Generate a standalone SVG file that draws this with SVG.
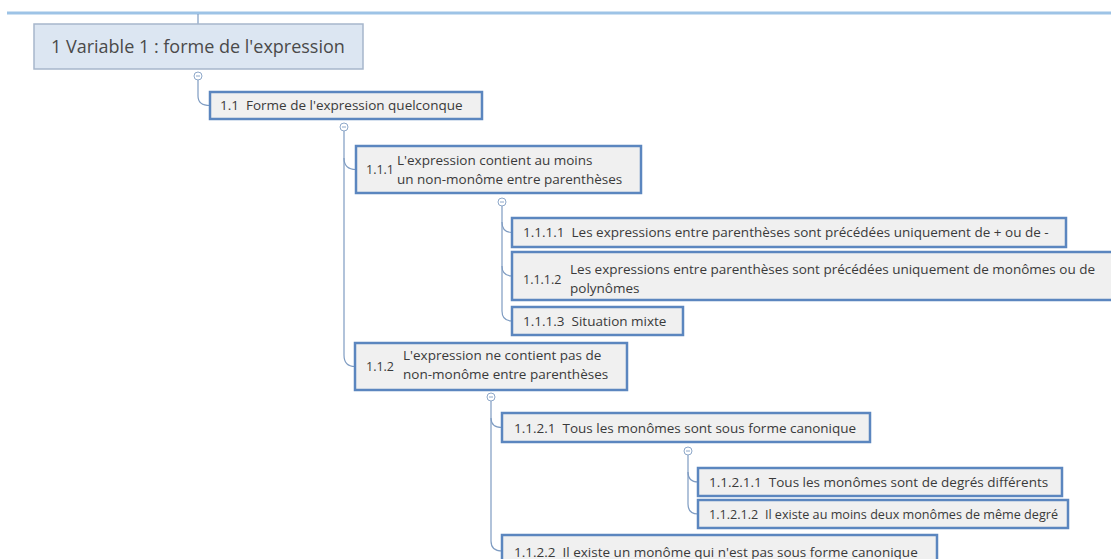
<svg xmlns="http://www.w3.org/2000/svg" width="1111" height="559" viewBox="0 0 1111 559">
<style>
  text { font-family: "Open Sans", "Noto Sans", "DejaVu Sans", sans-serif; fill: #3a3a3a; }
  .root rect { fill: #dce6f2; stroke: #a7b6cb; stroke-width: 1.5; }
  .root text { font-size: 18px; fill: #4a4a4a; }
  .node rect { fill: #f0f0f0; stroke: #5b86bf; stroke-width: 2.5; }
  .node text { font-size: 13.5px; }
  .node text.num { font-size: 12.5px; }
  .conn path { fill: none; stroke: #7f9cc2; stroke-width: 1.2; }
  .conn circle { fill: #ffffff; stroke: #8ea8c9; stroke-width: 1; }
  .conn line.minus { stroke: #8ea8c9; stroke-width: 1; }
</style>
<rect x="7" y="11.5" width="1104" height="3" fill="#9dc3e6"/>
<g class="conn">
  <path d="M198 14 V24"/>
  <path d="M198 80 V96 Q198 105.5 210 105.5"/>
  <path d="M344 131 V158 Q344 169.5 356 169.5"/>
  <path d="M344 158 V355 Q344 366.5 355 366.5"/>
  <path d="M502 206 V222 Q502 232.5 512 232.5"/>
  <path d="M502 222 V266 Q502 276 512 276"/>
  <path d="M502 266 V311 Q502 321 512 321"/>
  <path d="M491 401 V418 Q491 427.5 502 427.5"/>
  <path d="M491 418 V541 Q491 551 502 551"/>
  <path d="M688 455 V472 Q688 482 698 482"/>
  <path d="M688 472 V504 Q688 514 698 514"/>
  <circle cx="198" cy="76" r="4"/><line class="minus" x1="196" y1="76" x2="200" y2="76"/>
  <circle cx="344" cy="127" r="4"/><line class="minus" x1="342" y1="127" x2="346" y2="127"/>
  <circle cx="502" cy="202" r="4"/><line class="minus" x1="500" y1="202" x2="504" y2="202"/>
  <circle cx="491" cy="397" r="4"/><line class="minus" x1="489" y1="397" x2="493" y2="397"/>
  <circle cx="688" cy="451" r="4"/><line class="minus" x1="686" y1="451" x2="690" y2="451"/>
</g>
<g id="n1" class="root">
  <rect x="34" y="24" width="329" height="45"/>
  <text x="51" y="53">1 Variable 1 : forme de l'expression</text>
</g>
<g id="n1_1" class="node">
  <rect x="210" y="92" width="272" height="27"/>
  <text x="220" y="110" xml:space="preserve">1.1  Forme de l'expression quelconque</text>
</g>
<g id="n1_1_1" class="node">
  <rect x="356" y="146" width="285" height="47"/>
  <text class="num" x="366" y="174">1.1.1</text>
  <text x="397" y="165">L'expression contient au moins</text>
  <text x="397" y="184">un non-monôme entre parenthèses</text>
</g>
<g id="n1_1_1_1" class="node">
  <rect x="512" y="218" width="554" height="29"/>
  <text x="523" y="237" xml:space="preserve">1.1.1.1  Les expressions entre parenthèses sont précédées uniquement de + ou de -</text>
</g>
<g id="n1_1_1_2" class="node">
  <rect x="512" y="252" width="604" height="48"/>
  <text class="num" x="523" y="283.5">1.1.1.2</text>
  <text x="570" y="273.5">Les expressions entre parenthèses sont précédées uniquement de monômes ou de</text>
  <text x="570" y="292.5">polynômes</text>
</g>
<g id="n1_1_1_3" class="node">
  <rect x="512" y="307" width="171" height="28"/>
  <text x="523" y="325.5" xml:space="preserve">1.1.1.3  Situation mixte</text>
</g>
<g id="n1_1_2" class="node">
  <rect x="355" y="343" width="272" height="47"/>
  <text class="num" x="366" y="371">1.1.2</text>
  <text x="403" y="360">L'expression ne contient pas de</text>
  <text x="403" y="378.5">non-monôme entre parenthèses</text>
</g>
<g id="n1_1_2_1" class="node">
  <rect x="502" y="413" width="368" height="29"/>
  <text x="514" y="432.5" xml:space="preserve">1.1.2.1  Tous les monômes sont sous forme canonique</text>
</g>
<g id="n1_1_2_1_1" class="node">
  <rect x="698" y="468" width="364" height="28"/>
  <text x="709" y="486.5" xml:space="preserve">1.1.2.1.1  Tous les monômes sont de degrés différents</text>
</g>
<g id="n1_1_2_1_2" class="node">
  <rect x="698" y="500" width="370" height="28"/>
  <text x="709" y="519" xml:space="preserve" textLength="349" lengthAdjust="spacingAndGlyphs">1.1.2.1.2  Il existe au moins deux monômes de même degré</text>
</g>
<g id="n1_1_2_2" class="node">
  <rect x="502" y="535" width="435" height="36"/>
  <text x="514" y="557" xml:space="preserve">1.1.2.2  Il existe un monôme qui n'est pas sous forme canonique</text>
</g>
</svg>
